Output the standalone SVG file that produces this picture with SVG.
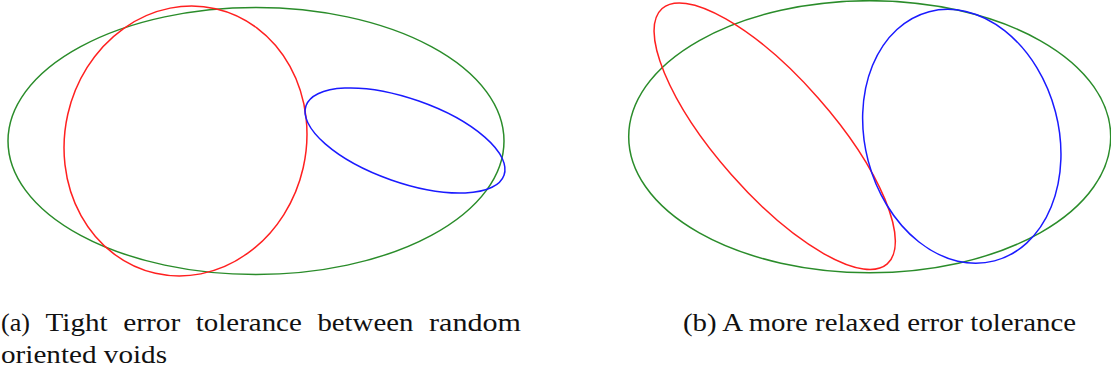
<svg xmlns="http://www.w3.org/2000/svg" width="1111" height="371" viewBox="0 0 1111 371">
<style>
.e{fill:none;stroke-width:1.5}
.g{stroke:#2a8c2a}
.r{stroke:#ff2020}
.b{stroke:#1a1aff}
.cap{font-family:"Liberation Serif","DejaVu Serif",serif;font-size:25px;fill:#111}
</style>
<rect width="1111" height="371" fill="#fff"/>
<g id="panel-a">
<ellipse class="e g" cx="256" cy="141" rx="248" ry="133.5"/>
<ellipse class="e r" cx="185.5" cy="141" rx="120.7" ry="135.7" transform="rotate(12.8 185.5 141)"/>
<ellipse class="e b" cx="405" cy="140.5" rx="104.9" ry="41.8" transform="rotate(19.3 405 140.5)"/>
</g>
<g id="panel-b">
<ellipse class="e g" cx="869.7" cy="136.7" rx="241" ry="136"/>
<ellipse class="e r" cx="774.7" cy="136.2" rx="170.2" ry="57.9" transform="rotate(48.6 774.7 136.2)"/>
<ellipse class="e b" cx="961.8" cy="136.3" rx="96.8" ry="128.8" transform="rotate(-14.7 961.8 136.3)"/>
</g>
<g id="captions">
<text class="cap" x="1" y="331" textLength="29" lengthAdjust="spacingAndGlyphs">(a)</text>
<text class="cap" x="45.6" y="331" textLength="62" lengthAdjust="spacingAndGlyphs">Tight</text>
<text class="cap" x="123.2" y="331" textLength="57" lengthAdjust="spacingAndGlyphs">error</text>
<text class="cap" x="195.8" y="331" textLength="106" lengthAdjust="spacingAndGlyphs">tolerance</text>
<text class="cap" x="317.4" y="331" textLength="96" lengthAdjust="spacingAndGlyphs">between</text>
<text class="cap" x="429" y="331" textLength="92" lengthAdjust="spacingAndGlyphs">random</text>
<text class="cap" x="1" y="363" textLength="166" lengthAdjust="spacingAndGlyphs">oriented voids</text>
<text class="cap" x="683" y="331" textLength="393" lengthAdjust="spacingAndGlyphs">(b) A more relaxed error tolerance</text>
</g>
</svg>
